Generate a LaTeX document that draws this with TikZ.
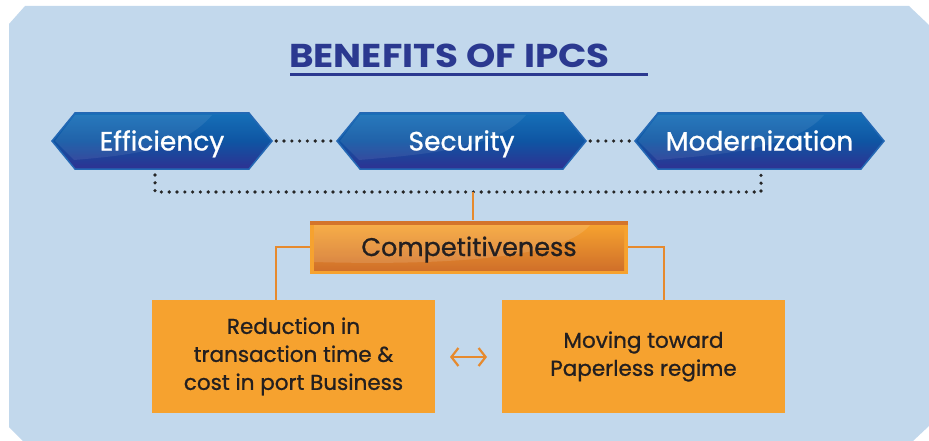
\documentclass[tikz,border=0pt]{standalone}
\usepackage{fontspec}
\setmainfont{Poppins}
\newfontfamily\medfont{Poppins}[FakeBold=0.9]
\usetikzlibrary{arrows.meta,calc}
\definecolor{bgblue}{HTML}{C2D8EC}
\definecolor{titleblue}{HTML}{2B3990}
\definecolor{hextop}{HTML}{1670B8}
\definecolor{hexmid}{HTML}{0F55A3}
\definecolor{hexbot}{HTML}{2E3192}
\definecolor{hexedge}{HTML}{2468B4}
\definecolor{orfill}{HTML}{F6A22F}
\definecolor{orline}{HTML}{E68A2E}
\definecolor{ordark}{HTML}{D0702A}
\definecolor{txtdark}{HTML}{231F20}
\newcommand\hexbox[4]{%
  \path[hexfill] (#2,141) -- (#2+23,113) -- (#3-23,113) -- (#3,141) -- (#3-23,169) -- (#2+23,169) -- cycle;
  \fill[white,opacity=0.08] (#2+3,141) -- (#2+23,115) -- (#3-60,115) .. controls (#3-90,150) and (#2+80,155) .. (#2+22,160) -- cycle;
  \node[hexlabel, minimum width={#3-#2}] (#1) at ({(#2+#3)/2},141) {#4};
}
\begin{document}
\begin{tikzpicture}[x=1pt,y=-1pt,
  hexfill/.style={draw=hexedge, line width=1.5pt, top color=hextop, bottom color=hexbot, middle color=hexmid},
  hexlabel/.style={text=white, font=\medfont\fontsize{26.5}{28}\selectfont, minimum height=56pt, inner sep=0pt, text height=19pt, text depth=0pt},
  dots/.style={line width=3.6pt, line cap=round, dash pattern=on 0pt off 7.8pt, black!85},
  conn/.style={draw=orline, line width=2pt},
  lowbox/.style={fill=orfill, text=txtdark, minimum width=283pt, minimum height=113pt, inner sep=0pt, align=center, font=\medfont\fontsize{21.5}{28}\selectfont},
  twoarrow/.style={draw=orline, line width=2.2pt, {Straight Barb[length=7pt,width=18pt]}-{Straight Barb[length=7pt,width=18pt]}}]
\useasboundingbox (0,0) rectangle (929,441);
\fill[bgblue] (9,24) -- (25,6) -- (909,6) -- (929,25) -- (929,426) -- (913,441) -- (23,441) -- (9,427) -- cycle;
% title
\node[anchor=base west, inner sep=0pt, text=titleblue, font=\bfseries\fontsize{33}{36}\selectfont] (title) at (289,67.5) {\scalebox{1.13}[1]{BENEFITS OF IPCS}};
\coordinate (ul1) at (290,74.5);
\coordinate (ul2) at (648,74.5);
\draw[titleblue, line width=2.2pt] (ul1) -- (ul2);
% hexagons
\hexbox{eff}{52}{272}{Efficiency}
\hexbox{sec}{337}{586}{Security}
\hexbox{mod}{635}{884}{Modernization}
% dotted connectors
\coordinate (jl) at (155,192);
\coordinate (jr) at (761,192);
\coordinate (jc) at (473,192);
\draw[dots] ($(eff.east)+(4,0)$) -- ($(sec.west)+(-4,0)$);
\draw[dots] ($(sec.east)+(4,0)$) -- ($(mod.west)+(-4,0)$);
\draw[dots] (155,175) -- (jl) -- (jr) -- (761,175);
% competitiveness
\fill[orfill] (310,221) rectangle (628,274);
\fill[ordark!90!orfill] (310,221) rectangle (628,225);
\shade[top color=orfill, bottom color=ordark] (314,225) rectangle (624,270);
\fill[white,opacity=0.12] (314,225) -- (590,225) .. controls (560,262) and (420,265) .. (314,262) -- cycle;
\node[minimum width=318pt, minimum height=53pt, inner sep=0pt, text=txtdark, font=\medfont\fontsize{25.5}{28}\selectfont, text height=18pt, text depth=0pt] (comp) at (469,247) {Competitiveness};
\draw[conn] (jc) -- (jc |- comp.north);
% lower boxes
\node[lowbox] (left) at (293.5,356.5) {Reduction in\\transaction time \&\\cost in port Business};
\node[lowbox] (right) at (643.5,356.5) {Moving toward\\Paperless regime};
\draw[conn] (comp.west) -| ($(left.north)+(-17.5,0)$);
\draw[conn] (comp.east) -| ($(right.north)+(20.5,0)$);
\coordinate (a1) at (450,357);
\coordinate (a2) at (487,357);
\draw[twoarrow] (a1) -- (a2);
\end{tikzpicture}
\end{document}
